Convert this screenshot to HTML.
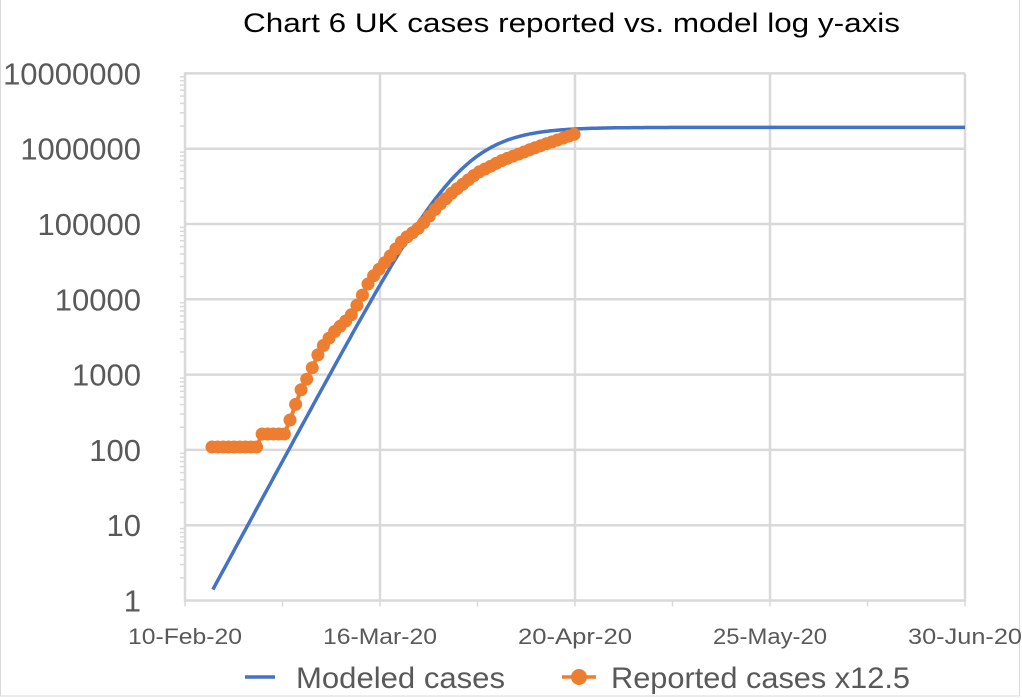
<!DOCTYPE html>
<html><head><meta charset="utf-8"><style>
html,body{margin:0;padding:0;background:#fff;}
svg{display:block;}
text{font-family:"Liberation Sans",sans-serif;fill:#595959;}
</style></head><body>
<svg id="s" width="1022" height="698" viewBox="0 0 1022 698" xmlns="http://www.w3.org/2000/svg">
<rect x="0.5" y="-2" width="1019" height="698" fill="#fff" stroke="#d9d9d9" stroke-width="1"/>
<text x="243" y="32" font-size="27" style="fill:#000" textLength="657" lengthAdjust="spacingAndGlyphs">Chart 6 UK cases reported vs. model log y-axis</text>
<g id="grid" stroke="#d9d9d9" stroke-width="2.5"></g>
<g id="ylab" font-size="31" text-anchor="end"></g>
<g id="xlab" font-size="22" text-anchor="middle"></g>
<path id="blue" fill="none" stroke="#4472c4" stroke-width="3.5"/>
<g id="dots" fill="#ed7d31"></g>
<line x1="245" y1="677" x2="275" y2="677" stroke="#4472c4" stroke-width="3.5"/>
<text x="296" y="688" font-size="30" textLength="209" lengthAdjust="spacingAndGlyphs">Modeled cases</text>
<line x1="562" y1="677" x2="596" y2="677" stroke="#ed7d31" stroke-width="3.5"/>
<circle cx="579" cy="677" r="8" fill="#ed7d31"/>
<text x="611" y="688" font-size="30" textLength="299" lengthAdjust="spacingAndGlyphs">Reported cases x12.5</text>
</svg>
<script>
var NS="http://www.w3.org/2000/svg";
function el(p,t,a,txt){var e=document.createElementNS(NS,t);for(var k in a)e.setAttribute(k,a[k]);if(txt!==undefined)e.textContent=txt;document.getElementById(p).appendChild(e);return e;}
var X0=185,DX=195/35,Y1=600.5,DEC=75.3;
function Y(l){return Y1-l*DEC;}
var labs=["1","10","100","1000","10000","100000","1000000","10000000"];
for(var i=0;i<8;i++){var y=Y(i);
 if(i>0)el("grid","line",{x1:X0,y1:y,x2:965,y2:y});
 el("ylab","text",{x:141,y:y+11},labs[i]);
 for(var m=2;m<10&&i<7;m++){var yy=Y(i+Math.log10(m));el("grid","line",{x1:X0-5,y1:yy,x2:X0,y2:yy,"stroke-width":1.5});}
}
var xs=[185,380,575,770,965],xl=["10-Feb-20","16-Mar-20","20-Apr-20","25-May-20","30-Jun-20"];
for(var j=0;j<5;j++){
 if(j>0)el("grid","line",{x1:xs[j],y1:Y(7),x2:xs[j],y2:Y1});
 el("grid","line",{x1:xs[j],y1:Y1,x2:xs[j],y2:Y1+6,"stroke-width":1.5});
 if(j<4)el("grid","line",{x1:xs[j]+97.5,y1:Y1,x2:xs[j]+97.5,y2:Y1+6,"stroke-width":1.5});
 el("xlab","text",{x:xs[j],y:644,textLength:114,lengthAdjust:"spacingAndGlyphs"},xl[j]);
}
el("grid","line",{x1:X0,y1:Y(7)-1,x2:X0,y2:Y1+1});
el("grid","line",{x1:X0-1,y1:Y1,x2:966,y2:Y1});
var P=Math.log10(1.92e6),a=1.3,d="";
for(var t=5;t<=140;t+=0.25){var L1=0.146+0.1365*(t-5);var L=P-Math.log(1+Math.exp(-a*(L1-P)))/a;
 d+=(t==5?"M":"L")+(X0+t*DX).toFixed(1)+","+Y(L).toFixed(1);}
document.getElementById("blue").setAttribute("d",d);
var kn=[[212,447],[257,447],[260,434],[285,434],[290,420],[300,392],[310,373],[320,350],[333,333],[350,317],[360,300],[370,280],[387,260],[403,240],[420,227],[437,207],[453,192],[477,173],[503,160],[537,147],[578,133]];
function iy(x){for(var k=0;k<kn.length-1;k++){if(x<=kn[k+1][0]){var f=(x-kn[k][0])/(kn[k+1][0]-kn[k][0]);return kn[k][1]+f*(kn[k+1][1]-kn[k][1]);}}return kn[kn.length-1][1];}
var pts=[];for(var x=212;x<=579;x+=DX){pts.push([x,iy(x)]);}
var pd="";pts.forEach(function(p,i){pd+=(i?"L":"M")+p[0].toFixed(1)+","+p[1].toFixed(1);});
el("dots","path",{d:pd,fill:"none",stroke:"#ed7d31","stroke-width":4});
pts.forEach(function(p){el("dots","circle",{cx:p[0].toFixed(1),cy:p[1].toFixed(1),r:6.5});});
</script>
</body></html>
